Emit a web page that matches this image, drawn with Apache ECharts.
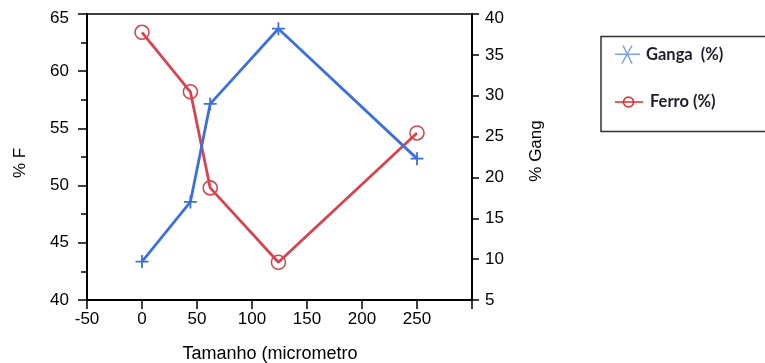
<!DOCTYPE html>
<html>
<head>
<meta charset="utf-8">
<script src="https://cdn.jsdelivr.net/npm/echarts@6/dist/echarts.min.js"></script>
<style>
  html, body { margin: 0; padding: 0; background: #fff; }
  #chart { width: 765px; height: 363px; }
</style>
</head>
<body>
<div id="chart"></div>
<script>
// Particle size (micrometres) for each sieve fraction
const tamanho = [0, 44, 62, 124, 250];
// Iron content, left axis (% F)
const ferro = [63.4, 58.2, 49.8, 43.3, 54.6];
// Gangue content, right axis (% Gang)
const ganga = [9.7, 17.0, 29.0, 38.2, 22.3];

const xTicks = [-50, 0, 50, 100, 150, 200, 250];
const fontFam = '"Liberation Sans", Arial, sans-serif';
const keyFont = 'bold 16.5px Lato, "Open Sans", sans-serif';

const blue = '#3d6fe0';
const red = '#d9434f';

const plusPath = 'path://M4.3,0 H5.7 V4.3 H10 V5.7 H5.7 V10 H4.3 V5.7 H0 V4.3 H4.3 Z';

// the top label of each y axis sits a little below its tick
function yLabel(max) {
  return v => (v === max ? '{t|' + v + '}' : String(v));
}
const yRich = { t: { fontFamily: fontFam, fontSize: 17, color: '#000', padding: [8, 0, 0, 0] } };

const chart = echarts.init(document.getElementById('chart'), null, { renderer: 'canvas' });

chart.setOption({
  animation: false,
  backgroundColor: '#fff',
  grid: {
    left: 87, right: 293, top: 14, bottom: 63,
    outerBoundsMode: 'none', containLabel: false,
    show: true, borderColor: '#000', borderWidth: 1.5
  },
  xAxis: {
    type: 'value', min: -50, max: 300, interval: 50,
    name: 'Tamanho (micrometro', nameLocation: 'middle', nameGap: 45,
    nameTextStyle: { fontFamily: fontFam, fontSize: 18, color: '#000', padding: [0, 19, 0, 0] },
    axisLine: { show: true, onZero: false, lineStyle: { color: '#000', width: 2 } },
    axisTick: { show: true, length: 9, lineStyle: { color: '#000', width: 1.5 } },
    axisLabel: {
      fontFamily: fontFam, fontSize: 17, color: '#000', margin: 11,
      formatter: v => (xTicks.indexOf(v) >= 0 ? String(v) : '')
    },
    splitLine: { show: false }
  },
  yAxis: [
    {
      type: 'value', min: 40, max: 65, interval: 5, position: 'left',
      name: '% F', nameLocation: 'middle', nameRotate: 90, nameGap: 58,
      nameTextStyle: { fontFamily: fontFam, fontSize: 17, color: '#000', padding: [0, 12, 0, 0] },
      axisLine: { show: true, onZero: false, lineStyle: { color: '#000', width: 2 } },
      axisTick: { show: true, length: 9, lineStyle: { color: '#000', width: 1.5 } },
      minorTick: { show: true, splitNumber: 2, length: 6, lineStyle: { color: '#000', width: 1.5 } },
      axisLabel: { fontFamily: fontFam, fontSize: 17, color: '#000', margin: 18, formatter: yLabel(65), rich: yRich },
      splitLine: { show: false }
    },
    {
      type: 'value', min: 5, max: 40, interval: 5, position: 'right',
      name: '% Gang', nameLocation: 'middle', nameRotate: 90, nameGap: 56,
      nameTextStyle: { fontFamily: fontFam, fontSize: 17, color: '#000', padding: [0, 0, 0, 12] },
      axisLine: { show: true, onZero: false, lineStyle: { color: '#000', width: 2 } },
      axisTick: { show: true, length: 7, lineStyle: { color: '#000', width: 1.5 } },
      axisLabel: { fontFamily: fontFam, fontSize: 17, color: '#000', margin: 13, formatter: yLabel(40), rich: yRich },
      splitLine: { show: false }
    }
  ],
  series: [
    {
      name: 'Ferro (%)', type: 'line', yAxisIndex: 0,
      data: tamanho.map((x, i) => [x, ferro[i]]),
      symbol: 'circle', symbolSize: 14,
      lineStyle: { color: red, width: 2.8 },
      itemStyle: { color: 'rgba(0,0,0,0)', borderColor: red, borderWidth: 1.6 },
      z: 2
    },
    {
      name: 'Ganga (%)', type: 'line', yAxisIndex: 1,
      data: tamanho.map((x, i) => [x, ganga[i]]),
      symbol: plusPath, symbolSize: 13, symbolKeepAspect: true,
      lineStyle: { color: blue, width: 2.8 },
      itemStyle: { color: blue },
      z: 3
    }
  ],
  graphic: [
    {
      type: 'rect', silent: true,
      shape: { x: 601, y: 36.5, width: 220, height: 95 },
      style: { fill: '#fff', stroke: '#333', lineWidth: 1.5 }
    },
    // Ganga key: asterisk
    {
      type: 'polyline', silent: true,
      shape: { points: [[615, 54.3], [640, 54.3]] },
      style: { stroke: '#7ba0dc', lineWidth: 1.5, fill: null }
    },
    {
      type: 'polyline', silent: true,
      shape: { points: [[623, 45.5], [632, 63.5]] },
      style: { stroke: '#7ba0dc', lineWidth: 1.5, fill: null }
    },
    {
      type: 'polyline', silent: true,
      shape: { points: [[632, 45.5], [622, 63.5]] },
      style: { stroke: '#7ba0dc', lineWidth: 1.5, fill: null }
    },
    {
      type: 'text', silent: true,
      style: { x: 646, y: 54.5, text: 'Ganga  (%)', font: keyFont, fill: '#1c1c2c', verticalAlign: 'middle' }
    },
    // Ferro key: line with open circle
    {
      type: 'polyline', silent: true,
      shape: { points: [[615, 102], [643, 102]] },
      style: { stroke: '#e8262a', lineWidth: 1.5, fill: null }
    },
    {
      type: 'circle', silent: true,
      shape: { cx: 628.5, cy: 102, r: 5 },
      style: { stroke: '#e8262a', lineWidth: 1.5, fill: null }
    },
    {
      type: 'text', silent: true,
      style: { x: 650, y: 101.5, text: 'Ferro (%)', font: keyFont, fill: '#1c1c2c', verticalAlign: 'middle' }
    }
  ]
});
</script>
</body>
</html>
